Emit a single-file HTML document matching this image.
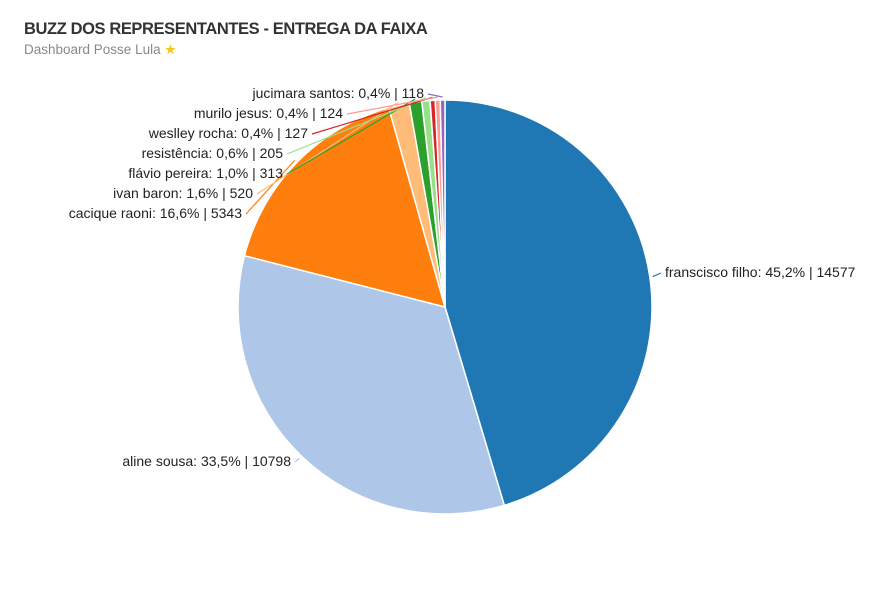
<!DOCTYPE html>
<html><head><meta charset="utf-8"><style>
body{margin:0;background:#fff;width:896px;height:592px;overflow:hidden;font-family:"Liberation Sans",sans-serif}
.t{position:absolute;left:24px;top:20px;font-weight:bold;font-size:16.5px;color:#333;letter-spacing:-0.4px}
.s{position:absolute;left:24px;top:42px;font-size:13.5px;color:#888}
</style></head><body>
<div class="t">BUZZ DOS REPRESENTANTES - ENTREGA DA FAIXA</div>
<div class="s">Dashboard Posse Lula <span style="color:#f5c518">★</span></div>
<svg id="g" width="896" height="592" style="position:absolute;left:0;top:0" font-family="Liberation Sans, sans-serif" font-size="14"></svg>
<script>
var d=[["franscisco filho: 45,2% | 14577",14577,"#1f77b4",665,277,"start"],
["aline sousa: 33,5% | 10798",10798,"#aec7e8",291,466,"end"],
["cacique raoni: 16,6% | 5343",5343,"#ff7f0e",242,218,"end"],
["ivan baron: 1,6% | 520",520,"#ffbb78",253,198,"end"],
["flávio pereira: 1,0% | 313",313,"#2ca02c",283,178,"end"],
["resistência: 0,6% | 205",205,"#98df8a",283,158,"end"],
["weslley rocha: 0,4% | 127",127,"#d62728",308,138,"end"],
["murilo jesus: 0,4% | 124",124,"#ff9896",343,118,"end"],
["jucimara santos: 0,4% | 118",118,"#9467bd",424,98,"end"]];
var T=0;d.forEach(e=>T+=e[1]);
var cx=445,cy=307,r=207,a=0,h="";
function P(an,rr){return[cx+rr*Math.sin(an),cy-rr*Math.cos(an)]}
var lines="";
d.forEach(e=>{var b=a+e[1]/T*2*Math.PI,p=P(a,r),q=P(b,r),l=(b-a>Math.PI)?1:0;
h+='<path d="M'+cx+','+cy+'L'+p[0]+','+p[1]+'A'+r+','+r+' 0 '+l+' 1 '+q[0]+','+q[1]+'Z" fill="'+e[2]+'" stroke="#fff" stroke-width="1.5"/>';
var m=P((a+b)/2,r+3),lx=e[5]=="end"?e[3]+4:e[3]-4,ly=e[4]-4;
lines+='<polyline points="'+m[0]+','+m[1]+' '+lx+','+ly+'" fill="none" stroke="'+e[2]+'" stroke-width="1.2"/>';
lines+='<text x="'+e[3]+'" y="'+e[4]+'" text-anchor="'+e[5]+'" fill="#222">'+e[0]+'</text>';
a=b;});
document.getElementById("g").innerHTML=h+lines;
</script>
</body></html>
